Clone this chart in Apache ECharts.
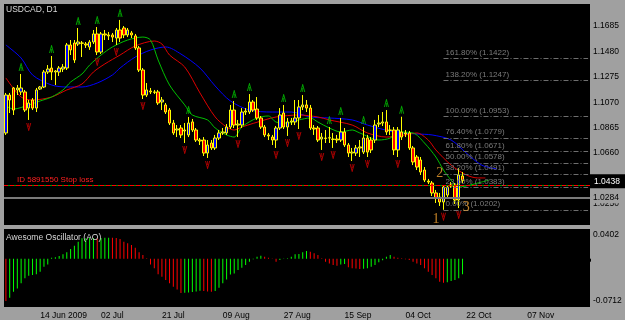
<!DOCTYPE html>
<html><head><meta charset="utf-8">
<script src="https://cdn.jsdelivr.net/npm/echarts@6/dist/echarts.min.js"></script>
<style>html,body{margin:0;padding:0;background:#a0a0a0;}#c{width:625px;height:320px;}</style>
</head><body><div id="c"></div>
<script>
// ---- data (USDCAD D1) ----
const openP = [1.0822,1.1128,1.1185,1.1169,1.1153,1.1153,1.1023,1.1088,1.1023,1.1177,
1.1193,1.1314,1.1346,1.1314,1.1314,1.1338,1.1346,1.1532,1.1548,1.1540,
1.1548,1.1540,1.1516,1.1556,1.1621,1.1475,1.1621,1.1613,1.1613,1.1588,
1.1653,1.1669,1.1613,1.1629,1.1605,1.1508,1.1330,1.1128,1.1161,1.1153,
1.1153,1.1072,1.1048,1.1007,1.0902,1.0846,1.0862,1.0838,1.0806,1.0911,
1.0846,1.0765,1.0765,1.0660,1.0741,1.0701,1.0781,1.0822,1.0822,1.0870,
1.1007,1.0886,1.0886,1.0991,1.0991,1.1072,1.1015,1.0943,1.0870,1.0806,
1.0789,1.0765,1.0862,1.0983,1.0870,1.0911,1.0911,1.0943,1.1032,1.1048,
1.1023,1.0862,1.0862,1.0773,1.0781,1.0781,1.0773,1.0773,1.0765,1.0830,
1.0725,1.0660,1.0660,1.0701,1.0668,1.0781,1.0765,1.0765,1.0894,1.0902,
1.0911,1.0846,1.0846,1.0685,1.0830,1.0822,1.0822,1.0701,1.0628,1.0604,
1.0523,1.0434,1.0418,1.0338,1.0305,1.0265,1.0321,1.0394,1.0402,1.0281,
1.0475];
const closeP = [1.1128,1.1088,1.1007,1.1185,1.1185,1.1007,1.1064,1.1023,1.1169,1.1193,
1.1314,1.1338,1.1314,1.1322,1.1346,1.1354,1.1532,1.1492,1.1411,1.1556,
1.1546,1.1532,1.1556,1.1621,1.1475,1.1621,1.1613,1.1605,1.1596,1.1653,
1.1588,1.1613,1.1653,1.1613,1.1508,1.1330,1.1128,1.1169,1.1153,1.1150,
1.1064,1.1088,1.0991,1.0902,1.0822,1.0854,1.0806,1.0846,1.0902,1.0846,
1.0765,1.0757,1.0660,1.0725,1.0701,1.0781,1.0822,1.0830,1.0870,1.1007,
1.0886,1.0894,1.0991,1.0999,1.1072,1.1007,1.0943,1.0870,1.0806,1.0798,
1.0765,1.0862,1.0967,1.0870,1.0911,1.0919,1.0943,1.1032,1.1048,1.1023,
1.0862,1.0854,1.0765,1.0789,1.0778,1.0784,1.0770,1.0765,1.0830,1.0725,
1.0660,1.0668,1.0701,1.0709,1.0781,1.0668,1.0685,1.0886,1.0902,1.0911,
1.0830,1.0843,1.0685,1.0846,1.0789,1.0814,1.0701,1.0588,1.0547,1.0507,
1.0442,1.0426,1.0338,1.0297,1.0265,1.0386,1.0386,1.0402,1.0281,1.0483,
1.0438];
const highP = [1.1145,1.1145,1.1193,1.1209,1.1298,1.1169,1.1088,1.1104,1.1185,1.1201,
1.1330,1.1370,1.1443,1.1330,1.1362,1.1378,1.1548,1.1572,1.1572,1.1669,
1.1564,1.1556,1.1572,1.1653,1.1677,1.1637,1.1653,1.1637,1.1629,1.1669,
1.1734,1.1685,1.1669,1.1645,1.1621,1.1524,1.1346,1.1225,1.1185,1.1169,
1.1169,1.1112,1.1064,1.1023,1.0927,1.0886,1.0886,1.0902,1.0951,1.0935,
1.0862,1.0781,1.0789,1.0765,1.0765,1.0806,1.0846,1.0862,1.0894,1.1048,
1.1080,1.0927,1.1023,1.1023,1.1136,1.1088,1.1112,1.0959,1.0886,1.0822,
1.0806,1.0878,1.1023,1.1048,1.0943,1.0943,1.1088,1.1088,1.1128,1.1088,
1.1048,1.0886,1.0878,1.0822,1.0846,1.0870,1.0822,1.0806,1.0943,1.0862,
1.0741,1.0701,1.0725,1.0765,1.0870,1.0806,1.0789,1.0927,1.0967,1.0991,
1.1007,1.0886,1.0870,1.0870,1.0953,1.0846,1.0838,1.0717,1.0644,1.0628,
1.0547,1.0451,1.0434,1.0362,1.0338,1.0402,1.0402,1.0426,1.0418,1.0539,
1.0507];
const lowP = [1.0806,1.0983,1.0967,1.1128,1.1128,1.0991,1.0927,1.1007,1.0991,1.1169,
1.1185,1.1298,1.1249,1.1209,1.1282,1.1314,1.1330,1.1451,1.1387,1.1524,
1.1435,1.1508,1.1492,1.1540,1.1451,1.1459,1.1572,1.1572,1.1556,1.1532,
1.1556,1.1588,1.1596,1.1588,1.1492,1.1314,1.1096,1.1112,1.1136,1.1136,
1.1048,1.1007,1.0975,1.0886,1.0806,1.0789,1.0781,1.0741,1.0789,1.0830,
1.0749,1.0725,1.0636,1.0620,1.0685,1.0685,1.0765,1.0806,1.0806,1.0854,
1.0862,1.0789,1.0862,1.0967,1.0975,1.0991,1.0927,1.0854,1.0789,1.0765,
1.0725,1.0701,1.0846,1.0854,1.0798,1.0886,1.0886,1.0854,1.1007,1.0991,
1.0846,1.0806,1.0749,1.0685,1.0741,1.0741,1.0701,1.0741,1.0749,1.0709,
1.0628,1.0596,1.0636,1.0628,1.0652,1.0628,1.0660,1.0741,1.0870,1.0878,
1.0806,1.0806,1.0644,1.0628,1.0765,1.0789,1.0685,1.0563,1.0523,1.0483,
1.0426,1.0410,1.0313,1.0257,1.0233,1.0202,1.0297,1.0378,1.0249,1.0216,
1.0418];
const aoValues = [-0.0714,-0.0658,-0.0557,-0.0501,-0.0416,-0.0332,-0.0287,-0.0276,-0.0264,-0.0219,
-0.0135,-0.0096,0.0017,0.0023,0.0045,0.0073,0.0107,0.0163,0.0219,0.0287,
0.0343,0.0345,0.0348,0.0350,0.0347,0.0350,0.0352,0.0354,0.0352,0.0350,
0.0332,0.0287,0.0259,0.0231,0.0186,0.0107,0.0062,0.0006,-0.0096,-0.0163,
-0.0264,-0.0304,-0.0360,-0.0416,-0.0473,-0.0518,-0.0580,-0.0574,-0.0569,-0.0562,
-0.0552,-0.0540,-0.0546,-0.0552,-0.0557,-0.0546,-0.0490,-0.0416,-0.0349,-0.0265,
-0.0248,-0.0191,-0.0152,-0.0107,-0.0051,-0.0011,0.0034,0.0051,0.0034,0.0017,
-0.0006,-0.0051,-0.0023,-0.0006,0.0006,0.0034,0.0073,0.0079,0.0107,0.0129,
0.0118,0.0090,0.0062,0.0006,-0.0051,-0.0079,-0.0107,-0.0118,-0.0096,-0.0090,
-0.0146,-0.0163,-0.0166,-0.0174,-0.0170,-0.0163,-0.0135,-0.0107,-0.0062,-0.0028,
0.0034,0.0062,0.0034,0.0017,0.0006,-0.0011,-0.0023,-0.0051,-0.0079,-0.0107,
-0.0163,-0.0219,-0.0276,-0.0332,-0.0388,-0.0405,-0.0399,-0.0377,-0.0360,-0.0332,
-0.0264];
// Alligator lines, read points [bar index, price]
const jawLine = [[0,1.1532],[4,1.1427],[7,1.1290],[12,1.1209],[16,1.1193],[20,1.1193],[24,1.1225],[28,1.1290],[30,1.1346],[34,1.1435],[38,1.1491],[42,1.1516],[46,1.1459],[51,1.1346],[55,1.1201],[59,1.1080],[64,1.1007],[70,1.0991],[75,1.0991],[80,1.0951],[85,1.0943],[91,1.0927],[95,1.0886],[102,1.0830],[108,1.0814],[112,1.0806],[117,1.0765],[121,1.0660],[125,1.0563],[129,1.0531]];
const teethLine = [[0,1.1266],[4,1.1112],[7,1.1088],[12,1.1112],[16,1.1169],[20,1.1217],[23,1.1314],[26,1.1379],[30,1.1451],[34,1.1524],[39,1.1564],[41,1.1540],[43,1.1451],[47,1.1354],[51,1.1145],[55,1.0951],[58,1.0870],[60,1.0846],[62,1.0870],[68,1.0927],[71,1.0951],[77,1.0967],[82,1.0951],[85,1.0927],[91,1.0886],[95,1.0822],[100,1.0789],[105,1.0806],[108,1.0822],[111,1.0765],[113,1.0685],[117,1.0563],[121,1.0483],[124,1.0459],[126,1.0459]];
const lipsLine = [[0,1.1040],[2,1.1015],[6,1.1048],[9,1.1080],[12,1.1112],[15,1.1169],[17,1.1233],[20,1.1298],[22,1.1370],[25,1.1451],[28,1.1516],[32,1.1572],[36,1.1596],[38,1.1572],[40,1.1411],[43,1.1209],[47,1.1048],[49,1.0967],[53,1.0927],[55,1.0862],[58,1.0806],[60,1.0789],[62,1.0870],[66,1.0943],[69,1.0959],[71,1.0910],[74,1.0902],[77,1.0927],[80,1.0943],[82,1.0910],[85,1.0862],[88,1.0830],[91,1.0846],[93,1.0822],[98,1.0765],[101,1.0781],[103,1.0830],[107,1.0822],[110,1.0741],[113,1.0628],[115,1.0523],[117,1.0442],[119,1.0386],[122,1.0402],[125,1.0426],[127,1.0442]];
const fractalUp = [4,12,19,24,30,48,60,64,73,78,85,88,94,100,104];
const fractalDown = [6,24,29,36,47,53,61,71,74,77,83,86,91,95,103,115,119];
const fibNames = ['161.80%','138.20%','100.00%','76.40%','61.80%','50.00%','38.20%','23.60%','0.00%'];
const fibPrices = [1.1422,1.1247,1.0953,1.0779,1.0671,1.0578,1.0491,1.0383,1.0202];
const fibStart = 115;
const waveNames = ['1','2','3'];
const waveIndex = [113,114,121];
const wavePrice = [1.0128,1.0499,1.0225];
const priceTicks = [1.1685,1.1480,1.1275,1.1070,1.0865,1.0660,1.0455,1.0250];
const aoTicks = [0.0402,-0.0712];
const dateLabels = ['14 Jun 2009','02 Jul','21 Jul','09 Aug','27 Aug','15 Sep','04 Oct','22 Oct','07 Nov'];
const dateIndex = [9,25,41,57,73,89,105,121,137];
const bidPrice = 1.0438;
const stopLossPrice = 1.0410;
const stopLossText = 'ID 5891550 Stop loss';
const grayLinePrice = 1.0284;
const nCategories = 154;

// ---- build ----
const categories = Array.from({length:nCategories}, () => '');
dateIndex.forEach((ix,k) => { categories[ix] = dateLabels[k]; });
const showDate = (idx) => categories[idx] !== '';
const candleData = openP.map((o,i) => [o, closeP[i], lowP[i], highP[i]]);
const aoData = aoValues.map((v,i) => ({value: v, itemStyle: {color: (i === 0 || v <= aoValues[i-1]) ? '#ff0000' : '#00ff00'}}));
const F = "'Liberation Sans Narrow','Liberation Sans',Arial,sans-serif";
const upPath = 'path://M0,10 L3.5,0 L4.5,0 L8,10 L6.5,10 L4,2.8 L1.5,10 Z M3.4,5 L4.6,5 L4.6,10 L3.4,10 Z';
const dnPath = 'path://M0,0 L3.5,10 L4.5,10 L8,0 L6.5,0 L4,7.2 L1.5,0 Z M3.4,0 L4.6,0 L4.6,5 L3.4,5 Z';

const fibMarks = fibPrices.map((p,k) => [
  {coord:[fibStart, p], lineStyle:{color:'#6e6e6e', width:1, type:[5,2,1,2]},
   label:{show:true, position:'insideStartTop', distance:2, formatter: fibNames[k] + ' (' + p.toFixed(4) + ')', color:'#7a7a7a', fontSize:8, fontFamily:F, padding:0}},
  {coord:[nCategories-1, p]}
]);

const chart = echarts.init(document.getElementById('c'), null, {renderer:'canvas'});
chart.setOption({
  animation: false,
  backgroundColor: '#a0a0a0',
  title: [
    {text:'USDCAD, D1', left:6, top:5, padding:0, textStyle:{color:'#d8d8d8', fontSize:8.5, fontWeight:'normal', fontFamily:F}},
    {text:'Awesome Oscillator (AO)', left:6, top:233, padding:0, textStyle:{color:'#d8d8d8', fontSize:8.5, fontWeight:'normal', fontFamily:F}}
  ],
  grid: [
    {left:4, top:4, width:586, height:221, show:true, backgroundColor:'#000', borderWidth:0},
    {left:4, top:229, width:586, height:78, show:true, backgroundColor:'#000', borderWidth:0}
  ],
  xAxis: [
    {type:'category', gridIndex:0, data:categories, boundaryGap:true, show:false},
    {type:'category', gridIndex:1, data:categories, boundaryGap:true,
     axisLine:{show:false},
     axisTick:{show:true, interval:showDate, alignWithLabel:false, length:3, lineStyle:{color:'#000'}},
     axisLabel:{interval:showDate, align:'left', color:'#000', fontSize:8.5, fontFamily:F, margin:4}}
  ],
  yAxis: [
    {type:'value', gridIndex:0, position:'right', scale:true, min:1.00793, max:1.18627,
     splitLine:{show:false}, axisLine:{show:false}, axisTick:{show:false},
     axisLabel:{customValues:priceTicks, formatter:v => v.toFixed(4), color:'#000', fontSize:8.5, fontFamily:F, margin:3}},
    {type:'value', gridIndex:1, position:'right', min:-0.0815, max:0.0501,
     splitLine:{show:false}, axisLine:{show:false}, axisTick:{show:false},
     axisLabel:{customValues:aoTicks, formatter:v => v.toFixed(4), color:'#000', fontSize:8.5, fontFamily:F, margin:3}}
  ],
  series: [
    {type:'line', xAxisIndex:0, yAxisIndex:0, data:[], clip:false, silent:true, z:1,
     markLine:{symbol:['none','none'], silent:true, animation:false, data:[
       ...fibMarks,
       {yAxis:grayLinePrice, lineStyle:{color:'#7a7a7a', width:2, type:'solid'},
        label:{show:true, position:'end', distance:1, formatter:grayLinePrice.toFixed(4), backgroundColor:'#a0a0a0', color:'#000', fontSize:8.5, fontFamily:F, padding:[1,6,1,2]}},
       {yAxis:stopLossPrice, lineStyle:{color:'#00a000', width:1, type:'solid'}, label:{show:false}},
       {yAxis:stopLossPrice, lineStyle:{color:'#ff0000', width:1, type:[4,2]},
        label:{show:true, position:'insideStartTop', distance:1, formatter:stopLossText, color:'#ff2020', fontSize:8, fontFamily:F, padding:[0,0,0,12]}}
     ]}},
    {type:'line', xAxisIndex:0, yAxisIndex:0, data:[], clip:false, silent:true, z:10,
     markLine:{symbol:['none','none'], silent:true, animation:false, data:[
       {yAxis:bidPrice, lineStyle:{color:'rgba(0,0,0,0)', width:1, type:'solid'},
        label:{show:true, position:'end', distance:0, offset:[0,-4], formatter:bidPrice.toFixed(4), backgroundColor:'#000', color:'#fff', fontSize:8.5, fontFamily:F, padding:[3,5,2,4]}}
     ]}},
    {type:'line', name:'Jaw', xAxisIndex:0, yAxisIndex:0, data:jawLine, showSymbol:false, smooth:0.3, lineStyle:{color:'#0000ff', width:1}, z:2},
    {type:'line', name:'Teeth', xAxisIndex:0, yAxisIndex:0, data:teethLine, showSymbol:false, smooth:0.3, lineStyle:{color:'#e00000', width:1}, z:2},
    {type:'line', name:'Lips', xAxisIndex:0, yAxisIndex:0, data:lipsLine, showSymbol:false, smooth:0.3, lineStyle:{color:'#00c000', width:1}, z:2},
    {type:'candlestick', xAxisIndex:0, yAxisIndex:0, data:candleData, barWidth:3, z:3,
     itemStyle:{color:'#0000ff', color0:'#ff0000', borderColor:'#ffff00', borderColor0:'#ffff00', borderWidth:1}},
    {type:'scatter', xAxisIndex:0, yAxisIndex:0, z:4, symbol:upPath, symbolSize:[5,8], symbolOffset:[0,-7],
     itemStyle:{color:'#00d000'}, data:fractalUp.map(i => [i, highP[i]])},
    {type:'scatter', xAxisIndex:0, yAxisIndex:0, z:4, symbol:dnPath, symbolSize:[5,8], symbolOffset:[0,7],
     itemStyle:{color:'#e00000'}, data:fractalDown.map(i => [i, lowP[i]])},
    {type:'scatter', xAxisIndex:0, yAxisIndex:0, z:5, symbolSize:0,
     data:waveNames.map((n,k) => ({name:n, value:[waveIndex[k], wavePrice[k]]})),
     label:{show:true, position:'inside', formatter:p => p.name, color:'#f0a030', fontSize:14, fontFamily:"'Liberation Serif',serif"}},
    {type:'bar', xAxisIndex:1, yAxisIndex:1, data:aoData, barWidth:1}
  ]
});
</script>
</body></html>
